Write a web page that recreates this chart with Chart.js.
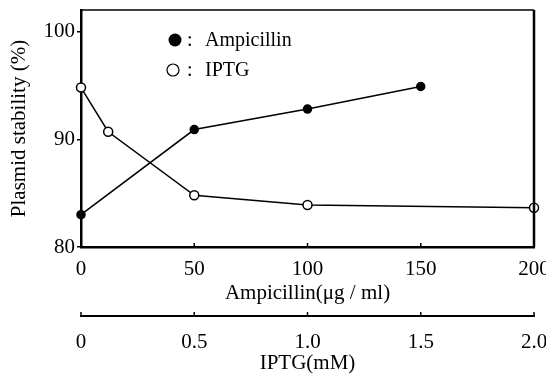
<!DOCTYPE html>
<html>
<head>
<meta charset="utf-8">
<script src="https://cdn.jsdelivr.net/npm/chart.js@4"></script>
<style>
  html, body { margin: 0; padding: 0; background: #fff; }
  #wrap { width: 546px; height: 376px; }
</style>
</head>
<body>
<div id="wrap"><canvas id="chart" width="546" height="376"></canvas></div>
<script>
// Ampicillin concentration (ug/ml) vs plasmid stability
const ampX = [0, 50, 100, 150];
const ampY = [83, 90.9, 92.8, 94.9];
// IPTG concentration (mM) vs plasmid stability
const iptgX = [0, 0.12, 0.5, 1.0, 2.0];
const iptgY = [94.8, 90.7, 84.8, 83.9, 83.65];

const yTicks = [80, 90, 100];
const ampTicks = [0, 50, 100, 150, 200];
const iptgTicks = [0, 0.5, 1.0, 1.5, 2.0];

const serif = 'Liberation Serif';

function toPoints(xs, ys) {
    return xs.map((x, i) => ({ x: x, y: ys[i] }));
}

const framePlugin = {
    id: 'frame',
    afterDraw(chart) {
        const ctx = chart.ctx;
        const a = chart.chartArea;
        ctx.save();
        ctx.strokeStyle = '#000';
        ctx.lineWidth = 1.5;
        ctx.beginPath();
        ctx.moveTo(a.left, a.top);
        ctx.lineTo(a.right, a.top);
        ctx.stroke();
        ctx.lineWidth = 2.5;
        ctx.beginPath();
        ctx.moveTo(a.right, a.top);
        ctx.lineTo(a.right, a.bottom);
        ctx.stroke();

        // small upward tick marks on both x axes
        ctx.lineWidth = 1.5;
        [['x', ampTicks], ['x2', iptgTicks]].forEach(([id, vals]) => {
            const s = chart.scales[id];
            vals.forEach(v => {
                const px = s.getPixelForValue(v);
                ctx.beginPath();
                ctx.moveTo(px, s.top);
                ctx.lineTo(px, s.top - 4);
                ctx.stroke();
            });
        });

        // legend inside the plot
        ctx.font = '20px "' + serif + '"';
        ctx.textBaseline = 'middle';
        ctx.fillStyle = '#000';
        ctx.beginPath();
        ctx.arc(a.left + 94, a.top + 30, 6.5, 0, Math.PI * 2);
        ctx.fill();
        ctx.fillText(':', a.left + 106, a.top + 31);
        ctx.fillText('Ampicillin', a.left + 124, a.top + 31);
        ctx.beginPath();
        ctx.lineWidth = 1.2;
        ctx.arc(a.left + 92, a.top + 60, 6, 0, Math.PI * 2);
        ctx.stroke();
        ctx.fillText(':', a.left + 106, a.top + 61);
        ctx.fillText('IPTG', a.left + 124, a.top + 61);
        ctx.restore();
    }
};

new Chart(document.getElementById('chart'), {
    type: 'scatter',
    data: {
        datasets: [{
            label: 'Ampicillin',
            data: toPoints(ampX, ampY),
            xAxisID: 'x',
            yAxisID: 'y',
            showLine: true,
            borderColor: '#000',
            backgroundColor: '#000',
            borderWidth: 1.5,
            pointRadius: 4,
            pointBackgroundColor: '#000',
            pointBorderColor: '#000',
            clip: false
        }, {
            label: 'IPTG',
            data: toPoints(iptgX, iptgY),
            xAxisID: 'x2',
            yAxisID: 'y',
            showLine: true,
            borderColor: '#000',
            backgroundColor: '#fff',
            borderWidth: 1.5,
            pointRadius: 4.5,
            pointBorderWidth: 1.5,
            pointBackgroundColor: '#fff',
            pointBorderColor: '#000',
            clip: false
        }]
    },
    options: {
        responsive: false,
        animation: false,
        layout: { padding: { top: 10, right: 12, left: 0, bottom: 0 } },
        plugins: {
            legend: { display: false },
            tooltip: { enabled: false }
        },
        scales: {
            y: {
                type: 'linear',
                position: 'left',
                min: 80,
                max: 102,
                afterBuildTicks: s => { s.ticks = yTicks.map(v => ({ value: v })); },
                afterFit: s => { s.width = 81; s.paddingTop = 0; s.paddingBottom = 0; },
                border: { display: true, color: '#000', width: 2.5 },
                grid: { display: true, drawOnChartArea: false, drawTicks: true, tickLength: 4, color: '#000', lineWidth: 1.5 },
                ticks: { color: '#000', padding: 2, font: { family: serif, size: 21 } },
                title: {
                    display: true,
                    text: 'Plasmid stability (%)',
                    color: '#000',
                    padding: { top: 7, bottom: 0 },
                    font: { family: serif, size: 21 }
                }
            },
            x: {
                type: 'linear',
                position: 'bottom',
                weight: 1,
                min: 0,
                max: 200,
                afterBuildTicks: s => { s.ticks = ampTicks.map(v => ({ value: v })); },
                afterFit: s => { s.height = 69; s.paddingLeft = 0; s.paddingRight = 0; },
                border: { display: true, color: '#000', width: 2.5 },
                grid: { display: false },
                ticks: { color: '#000', padding: 2, maxRotation: 0, font: { family: serif, size: 21 } },
                title: {
                    display: true,
                    text: 'Ampicillin(μg / ml)',
                    color: '#000',
                    padding: { top: 0, bottom: 10 },
                    font: { family: serif, size: 21 }
                }
            },
            x2: {
                type: 'linear',
                position: 'bottom',
                weight: 2,
                min: 0,
                max: 2,
                afterBuildTicks: s => { s.ticks = iptgTicks.map(v => ({ value: v })); },
                afterFit: s => { s.height = 60; s.paddingLeft = 0; s.paddingRight = 0; },
                border: { display: true, color: '#000', width: 2 },
                grid: { display: false },
                ticks: {
                    color: '#000',
                    padding: 6,
                    maxRotation: 0,
                    font: { family: serif, size: 21 },
                    callback: v => v === 0 ? '0' : v.toFixed(1)
                },
                title: {
                    display: true,
                    text: 'IPTG(mM)',
                    color: '#000',
                    padding: { top: 0, bottom: 0 },
                    font: { family: serif, size: 21 }
                }
            }
        }
    },
    plugins: [framePlugin]
});
</script>
</body>
</html>
